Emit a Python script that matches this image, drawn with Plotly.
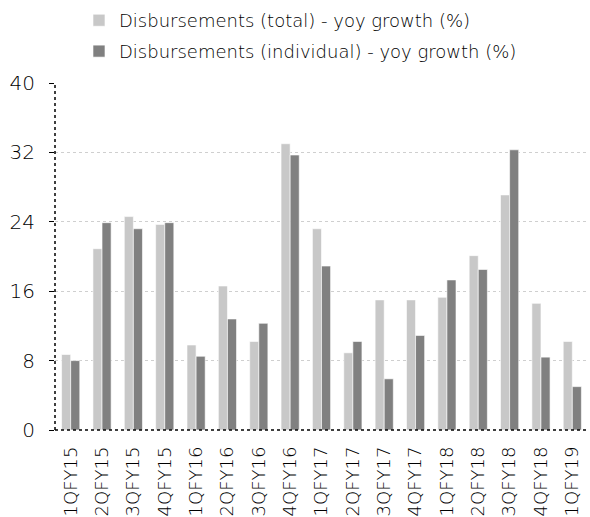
import plotly.graph_objects as go

quarters = ["1QFY15", "2QFY15", "3QFY15", "4QFY15", "1QFY16", "2QFY16", "3QFY16", "4QFY16",
            "1QFY17", "2QFY17", "3QFY17", "4QFY17", "1QFY18", "2QFY18", "3QFY18", "4QFY18", "1QFY19"]
total_growth = [8.7, 20.9, 24.6, 23.7, 9.8, 16.6, 10.2, 33.0,
                23.2, 8.9, 15.0, 15.0, 15.3, 20.1, 27.1, 14.6, 10.2]
individual_growth = [8.0, 23.9, 23.2, 23.9, 8.5, 12.8, 12.3, 31.7,
                     18.9, 10.2, 5.9, 10.9, 17.3, 18.5, 32.3, 8.4, 5.0]
y_ticks = [0, 8, 16, 24, 32, 40]

font_family = "DejaVu Sans, sans-serif"
light = dict(family=font_family, color="#000", weight=200)

fig = go.Figure()
fig.add_trace(go.Bar(
    x=quarters, y=total_growth, name="Disbursements (total) - yoy growth (%)",
    marker=dict(color="#c8c8c8", line=dict(color="white", width=0.6)),
    legend="legend",
))
fig.add_trace(go.Bar(
    x=quarters, y=individual_growth, name="Disbursements (individual) - yoy growth (%)",
    marker=dict(color="#808080", line=dict(color="white", width=0.6)),
    legend="legend2",
))

legend_common = dict(
    x=0.045, xanchor="left", yanchor="middle", orientation="v",
    font=dict(size=18, **light), itemwidth=30, bgcolor="rgba(0,0,0,0)",
)

fig.update_layout(
    width=590, height=517,
    margin=dict(l=55, r=2, t=80, b=87),
    paper_bgcolor="white", plot_bgcolor="white",
    barmode="group", bargap=0.42, bargroupgap=0,
    font=dict(size=16, **light),
    legend=dict(y=1.18, **legend_common),
    legend2=dict(y=1.091, **legend_common),
    xaxis=dict(
        tickangle=-90, showgrid=False, showline=False, ticks="",
        tickfont=dict(size=18, **light), range=[-0.5, 16.5],
        ticklabelstandoff=12,
    ),
    yaxis=dict(
        range=[0, 40], tickvals=y_ticks, showgrid=True,
        gridcolor="#cfcfcf", griddash="dot", gridwidth=1,
        showline=False, ticks="outside", ticklen=5, tickcolor="#000",
        tickfont=dict(size=20, **light), zeroline=False,
        ticklabelstandoff=10,
    ),
    showlegend=True,
)

# dotted axis lines on the left and bottom
fig.add_shape(type="line", xref="paper", yref="paper", x0=0, x1=0, y0=0, y1=1,
              line=dict(color="#000", width=1.5, dash="dot"))
fig.add_shape(type="line", xref="paper", yref="paper", x0=0, x1=1, y0=0, y1=0,
              line=dict(color="#000", width=1.5, dash="dot"))

fig.write_html("out.html")
